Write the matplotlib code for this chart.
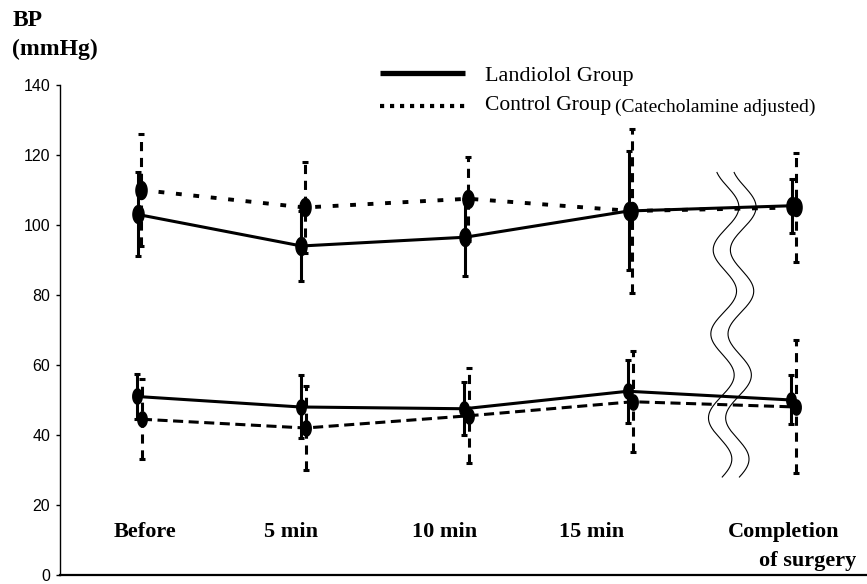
import numpy as np
import matplotlib
matplotlib.use("Agg")
import matplotlib.pyplot as plt
from matplotlib.lines import Line2D

# Data (mmHg, mean and SD)

timepoints = ["Before", "5 min", "10 min", "15 min", "Completion"]

sbp_landiolol = [103, 94, 96.5, 104, 105.5]
sbp_landiolol_sd = [12, 10, 11, 17, 7.7]
sbp_control = [110, 105, 107.5, 104, 105]
sbp_control_sd = [16, 13, 12, 23.5, 15.5]

dbp_landiolol = [51, 48, 47.5, 52.5, 50]
dbp_landiolol_sd = [6.5, 9, 7.5, 9, 7]
dbp_control = [44.5, 42, 45.5, 49.5, 48]
dbp_control_sd = [11.5, 12, 13.5, 14.5, 19]

yticks = [0, 20, 40, 60, 80, 100, 120, 140]

serif = ["Liberation Serif", "DejaVu Serif"]
narrow = ["Liberation Sans Narrow", "Liberation Sans", "DejaVu Sans"]

fig = plt.figure(figsize=(8.67, 5.84), dpi=100)
ax = fig.add_axes([0.069, 0.0154, 0.931, 0.8391])

x = np.arange(len(timepoints))

# upright ellipse marker like the original scan
t = np.linspace(0, 2 * np.pi, 40)
ellipse = np.column_stack([0.62 * np.cos(t), np.sin(t)])


def series(vals, sd, dx, ls, bar_ls, lw, ms, z):
    xs = x + dx
    ax.plot(xs, vals, color="black", lw=lw, linestyle=ls, zorder=z,
            solid_capstyle="butt", dash_capstyle="butt")
    eb = ax.errorbar(xs, vals, yerr=sd, fmt="none", ecolor="black",
                     elinewidth=2.2, capsize=2.3, capthick=2.2, zorder=z)
    eb[2][0].set_linestyle(bar_ls)
    ax.plot(xs, vals, linestyle="none", marker=ellipse, ms=ms,
            color="black", zorder=z + 1)


series(sbp_control, sbp_control_sd, 0.015, (0, (1.5, 3)), (0, (3, 2.2)), 2.8, 13, 2)
series(sbp_landiolol, sbp_landiolol_sd, -0.005, "-", "-", 2.2, 13, 3)
series(dbp_control, dbp_control_sd, 0.02, (0, (3.3, 1.8)), (0, (3, 2.2)), 2.2, 11, 2)
series(dbp_landiolol, dbp_landiolol_sd, -0.01, "-", "-", 2.2, 11, 3)

# axis break (two wavy lines)
yy = np.linspace(28, 115, 300)
wave = 3.6 + 0.075 * np.sin(2 * np.pi * (yy - 99) / 24) - 0.0006 * (115 - yy)
ax.plot(wave, yy, color="black", lw=0.8, zorder=4)
ax.plot(wave + 0.105, yy, color="black", lw=0.8, zorder=4)

ax.set_xlim(-0.482, 4.452)
ax.set_ylim(0, 140)
ax.set_yticks(yticks)
ax.set_yticklabels([str(v) for v in yticks], family=narrow, fontsize=11.5)
ax.set_xticks([])
ax.tick_params(axis="y", direction="out", length=3, width=1, pad=4)
for s in ["top", "right"]:
    ax.spines[s].set_visible(False)
ax.spines["left"].set_linewidth(1.0)
ax.spines["bottom"].set_linewidth(1.6)

# time point labels inside the plot
label_x = [0.04, 0.93, 1.87, 2.77, 3.94]
for lx, name in zip(label_x, timepoints):
    ax.text(lx, 10.9, name, ha="center", va="baseline", family=serif,
            fontsize=16, fontweight="bold")
ax.text(label_x[-1] + 0.15, 2.7, "of surgery", ha="center", va="baseline",
        family=serif, fontsize=16, fontweight="bold")

# y label
fig.text(0.014, 0.955, "BP", family=serif, fontsize=17, fontweight="bold",
         va="baseline")
fig.text(0.014, 0.905, "(mmHg)", family=serif, fontsize=17, fontweight="bold",
         va="baseline")

# legend
W, H = 867.0, 584.0
fig.add_artist(Line2D([380 / W, 465 / W], [1 - 73 / H, 1 - 73 / H],
                      color="black", lw=3.8, solid_capstyle="butt"))
fig.add_artist(Line2D([380 / W, 465 / W], [1 - 106 / H, 1 - 106 / H],
                      color="black", lw=3.0, linestyle=(0, (1, 1.4)),
                      dash_capstyle="butt"))
fig.text(485 / W, 1 - 77 / H, "Landiolol Group", family=serif, fontsize=16,
         va="center")
t2 = fig.text(485 / W, 1 - 106 / H, "Control Group", family=serif,
              fontsize=15.5, va="center")
fig.canvas.draw()
bb = t2.get_window_extent(renderer=fig.canvas.get_renderer())
fig.text((bb.x1 + 4) / W, 1 - 107 / H, "(Catecholamine adjusted)",
         family=serif, fontsize=14, va="center")

fig.savefig("out.png", dpi=100)
